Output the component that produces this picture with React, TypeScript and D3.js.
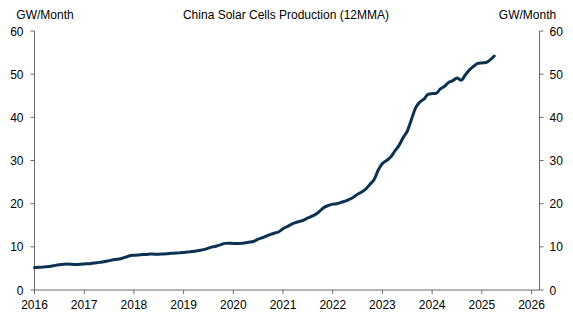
import React from "react";
import * as d3 from "d3";

const startYear = 2016;
const values: number[] = [
  5.2, 5.25, 5.3, 5.4, 5.5, 5.7, 5.85, 5.95, 6.0, 5.95, 5.9, 5.95,
  6.05, 6.1, 6.2, 6.3, 6.45, 6.6, 6.8, 7.0, 7.1, 7.3, 7.6, 7.95,
  8.05, 8.1, 8.2, 8.25, 8.35, 8.3, 8.3, 8.35, 8.4, 8.5, 8.55, 8.6,
  8.7, 8.8, 8.9, 9.05, 9.2, 9.4, 9.7, 10.0, 10.2, 10.5, 10.8, 10.85,
  10.8, 10.75, 10.8, 10.95, 11.1, 11.3, 11.8, 12.1, 12.5, 12.9, 13.2, 13.5,
  14.2, 14.7, 15.2, 15.6, 15.9, 16.2, 16.7, 17.1, 17.6, 18.4, 19.2, 19.6,
  19.9, 20.0, 20.3, 20.6, 21.0, 21.5, 22.2, 22.7, 23.4, 24.5, 25.6, 27.8,
  29.3, 30.0, 30.8, 32.2, 33.5, 35.3, 36.8, 39.5, 42.2, 43.5, 44.2, 45.3,
  45.5, 45.6, 46.6, 47.2, 48.1, 48.5, 49.1, 48.6, 49.8, 51.0, 51.8, 52.5,
  52.6, 52.7, 53.3, 54.2,
];
const yTicks = [0, 10, 20, 30, 40, 50, 60];
const xTicks = [2016, 2017, 2018, 2019, 2020, 2021, 2022, 2023, 2024, 2025, 2026];
const title = "China Solar Cells Production (12MMA)";
const unit = "GW/Month";

export default function App() {
  const W = 573, H = 322;
  const left = 34.5, right = 539.5, top = 31, bottom = 290;
  const x = d3.scaleLinear().domain([2016, 2026.16]).range([left, right]);
  const y = d3.scaleLinear().domain([0, 60]).range([bottom, top]);
  const line = d3
    .line<number>()
    .x((_, i) => x(startYear + i / 12))
    .y((d) => y(d))
    .curve(d3.curveMonotoneX);
  const axisColor = "#6b6b6b";
  const font = "'Liberation Sans', Arial, sans-serif";
  return (
    <svg
      width={W}
      height={H}
      style={{ position: "absolute", left: 0, top: 0, background: "#fff" }}
      fontFamily={font}
    >
      <text x={45} y={19} fontSize={12} textAnchor="middle" fill="#000">{unit}</text>
      <text x={286} y={19} fontSize={12} textAnchor="middle" fill="#000">{title}</text>
      <text x={527.5} y={19} fontSize={12} textAnchor="middle" fill="#000">{unit}</text>

      <line x1={left} x2={left} y1={top} y2={bottom} stroke={axisColor} strokeWidth={1} />
      <line x1={right} x2={right} y1={top} y2={bottom} stroke={axisColor} strokeWidth={1} />
      <line x1={left} x2={right} y1={bottom} y2={bottom} stroke={axisColor} strokeWidth={1} />

      {yTicks.map((t) => (
        <g key={"y" + t}>
          <line x1={left - 4} x2={left} y1={y(t)} y2={y(t)} stroke={axisColor} />
          <line x1={right} x2={right + 4} y1={y(t)} y2={y(t)} stroke={axisColor} />
          <text x={left - 11} y={y(t) + 4.5} fontSize={12} textAnchor="end" fill="#000">{t}</text>
          <text x={right + 10} y={y(t) + 4.5} fontSize={12} textAnchor="start" fill="#000">{t}</text>
        </g>
      ))}
      {xTicks.map((t) => (
        <g key={"x" + t}>
          <line x1={x(t)} x2={x(t)} y1={bottom} y2={bottom + 4} stroke={axisColor} />
          <text x={x(t)} y={bottom + 19} fontSize={12} textAnchor="middle" fill="#000">{t}</text>
        </g>
      ))}

      <path d={line(values) || ""} fill="none" stroke="#0c3252" strokeWidth={3} strokeLinejoin="round" strokeLinecap="round" />
    </svg>
  );
}
